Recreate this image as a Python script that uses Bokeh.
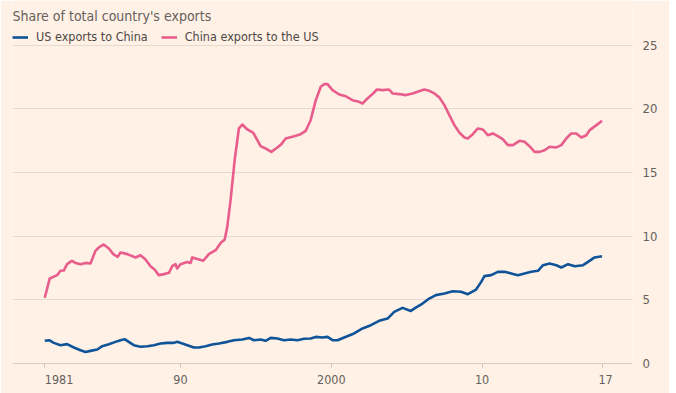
from bokeh.plotting import figure
from bokeh.models import Range1d, FixedTicker, Legend, LegendItem, Label
from bokeh.embed import file_html
from bokeh.resources import INLINE

TITLE = "Share of total country's exports"
SERIES_NAMES = ["US exports to China", "China exports to the US"]

X_TICKS = [1981, 1990, 2000, 2010, 2017.95]
X_TICK_LABELS = ["\u2007\u2007\u2007\u20071981", "90", "2000", "10", "\u200717"]
Y_TICKS = [0, 5, 10, 15, 20, 25]

cn_years = [1981.0, 1981.33, 1981.82, 1982.04, 1982.26, 1982.48, 1982.8, 1983.04, 1983.37, 1983.7,
            1984.03, 1984.36, 1984.58, 1984.9, 1985.25, 1985.54, 1985.84, 1986.02, 1986.47, 1987.02,
            1987.35, 1987.68, 1988.01, 1988.28, 1988.56, 1988.9, 1989.23, 1989.45, 1989.67, 1989.78,
            1990.0, 1990.45, 1990.67, 1990.78, 1991.11, 1991.51, 1991.88, 1992.33, 1992.66, 1992.93,
            1993.1, 1993.32, 1993.59, 1993.87, 1994.1, 1994.43, 1994.83, 1995.31, 1995.64, 1996.02,
            1996.42, 1996.69, 1996.97, 1997.53, 1997.97, 1998.3, 1998.63, 1998.97, 1999.3, 1999.52,
            1999.75, 2000.08, 2000.52, 2000.96, 2001.4, 2001.84, 2002.07, 2002.4, 2002.73, 2003.02,
            2003.4, 2003.83, 2004.06, 2004.5, 2004.95, 2005.39, 2005.72, 2006.16, 2006.5, 2006.83,
            2007.16, 2007.5, 2007.83, 2008.16, 2008.5, 2008.83, 2009.05, 2009.38, 2009.72, 2010.05,
            2010.38, 2010.71, 2011.04, 2011.38, 2011.71, 2012.04, 2012.48, 2012.81, 2013.14, 2013.48,
            2013.81, 2014.14, 2014.47, 2014.92, 2015.25, 2015.58, 2015.91, 2016.24, 2016.58, 2016.91,
            2017.13, 2017.58, 2017.95]
cn_to_us = [5.16, 6.68, 6.94, 7.28, 7.3, 7.8, 8.06, 7.9, 7.8, 7.9,
            7.85, 8.85, 9.11, 9.35, 9.03, 8.59, 8.38, 8.72, 8.59, 8.33,
            8.5, 8.17, 7.64, 7.38, 6.94, 7.02, 7.12, 7.64, 7.8, 7.46,
            7.8, 7.98, 7.9, 8.33, 8.2, 8.07, 8.59, 8.9, 9.47, 9.74,
            10.73, 12.83, 15.97, 18.46, 18.77, 18.38, 18.12, 17.07, 16.89, 16.62,
            16.97, 17.23, 17.67, 17.85, 18.01, 18.27, 19.11, 20.68, 21.73, 21.94,
            21.94, 21.47, 21.13, 20.99, 20.68, 20.55, 20.42, 20.82, 21.16, 21.52,
            21.47, 21.52, 21.21, 21.16, 21.08, 21.21, 21.34, 21.52, 21.42, 21.21,
            20.9, 20.29, 19.5, 18.72, 18.12, 17.75, 17.67, 18.01, 18.46, 18.38,
            17.93, 18.07, 17.85, 17.6, 17.15, 17.15, 17.49, 17.41, 17.07, 16.62,
            16.62, 16.75, 17.02, 16.97, 17.15, 17.67, 18.07, 18.07, 17.75, 17.93,
            18.33, 18.72, 19.06]

us_years = [1981.0, 1981.29, 1981.6, 1982.04, 1982.48, 1982.93, 1983.37, 1983.7, 1984.03, 1984.48,
            1984.81, 1985.25, 1985.69, 1986.02, 1986.29, 1986.57, 1986.9, 1987.35, 1987.8, 1988.23,
            1988.68, 1989.13, 1989.56, 1989.78, 1990.12, 1990.45, 1990.89, 1991.22, 1991.66, 1992.1,
            1992.55, 1993.1, 1993.54, 1994.1, 1994.54, 1994.87, 1995.31, 1995.64, 1995.98, 1996.42,
            1996.86, 1997.3, 1997.75, 1998.19, 1998.63, 1998.97, 1999.41, 1999.75, 2000.08, 2000.41,
            2000.85, 2001.51, 2002.07, 2002.62, 2003.17, 2003.73, 2004.17, 2004.72, 2005.27, 2005.6,
            2006.05, 2006.49, 2006.93, 2007.5, 2008.05, 2008.6, 2009.05, 2009.6, 2009.94, 2010.15,
            2010.6, 2011.04, 2011.49, 2011.93, 2012.37, 2012.81, 2013.26, 2013.7, 2014.04, 2014.47,
            2014.92, 2015.25, 2015.7, 2016.14, 2016.69, 2017.02, 2017.46, 2017.95]
us_to_cn = [1.78, 1.83, 1.62, 1.44, 1.52, 1.26, 1.04, 0.91, 0.99, 1.1,
            1.36, 1.52, 1.7, 1.83, 1.91, 1.7, 1.44, 1.31, 1.36, 1.44,
            1.57, 1.62, 1.62, 1.7, 1.57, 1.44, 1.26, 1.26, 1.36, 1.49,
            1.57, 1.7, 1.83, 1.88, 2.01, 1.83, 1.88, 1.78, 2.01, 1.96,
            1.83, 1.88, 1.83, 1.94, 1.96, 2.09, 2.04, 2.09, 1.83, 1.83,
            2.04, 2.36, 2.75, 3.01, 3.35, 3.53, 4.05, 4.37, 4.13, 4.39,
            4.71, 5.1, 5.37, 5.5, 5.68, 5.63, 5.44, 5.81, 6.41, 6.86,
            6.94, 7.2, 7.2, 7.07, 6.94, 7.07, 7.2, 7.28, 7.72, 7.85,
            7.72, 7.54, 7.8, 7.64, 7.72, 7.98, 8.33, 8.43]

BG = "#FFF1E5"
BLUE = "#0F5499"
PINK = "#E95D8C"
GRID = "#E6D9CE"
TEXT = "#66605C"
FONT = "'Liberation Sans Narrow', 'DejaVu Sans Condensed', Roboto, sans-serif"

p = figure(width=669, height=393, output_backend="svg", toolbar_location=None,
           x_range=Range1d(1978.86, 2019.97), y_range=Range1d(0, 28.51),
           y_axis_location="right",
           min_border_left=12, min_border_right=37, min_border_top=0, min_border_bottom=30)
p.title.visible = False
p.background_fill_color = BG
p.border_fill_color = BG
p.outline_line_color = None

r_us = p.line(us_years, us_to_cn, line_color=BLUE, line_width=2.6, line_join="round")
r_cn = p.line(cn_years, cn_to_us, line_color=PINK, line_width=2.6, line_join="round")

p.xgrid.visible = False
p.ygrid.grid_line_color = GRID
p.ygrid.grid_line_width = 1

p.xaxis.ticker = FixedTicker(ticks=X_TICKS)
p.xaxis.major_label_overrides = {t: l for t, l in zip(X_TICKS, X_TICK_LABELS)}
p.xaxis.axis_line_color = "#D9CCC1"
p.xaxis.major_tick_line_color = "#CFC2B8"
p.xaxis.major_tick_out = 4
p.xaxis.major_tick_in = 0
p.xaxis.minor_tick_line_color = None
p.xaxis.major_label_text_font = FONT
p.xaxis.major_label_text_font_size = "12.5px"
p.xaxis.major_label_text_color = TEXT
p.xaxis.major_label_standoff = 4

p.yaxis.ticker = FixedTicker(ticks=Y_TICKS)
p.yaxis.axis_line_color = None
p.yaxis.major_tick_line_color = None
p.yaxis.minor_tick_line_color = None
p.yaxis.major_label_text_font = FONT
p.yaxis.major_label_text_font_size = "13px"
p.yaxis.major_label_text_color = TEXT
p.yaxis.major_label_standoff = 4

title = Label(x=0, y=347.5, x_units="screen", y_units="screen", text=TITLE,
              text_font=FONT, text_font_size="14px", text_color=TEXT,
              text_baseline="alphabetic", text_align="left")
p.add_layout(title)

legend = Legend(items=[LegendItem(label=SERIES_NAMES[0], renderers=[r_us]),
                       LegendItem(label=SERIES_NAMES[1], renderers=[r_cn])],
                orientation="horizontal", location=(0, 318.7),
                padding=0, margin=0, spacing=13, label_standoff=8,
                glyph_width=16, glyph_height=14, label_height=14,
                label_text_font=FONT, label_text_font_size="12.5px",
                label_text_color="#4D4845",
                border_line_color=None, background_fill_alpha=0)
p.add_layout(legend)

open("out.html", "w").write(file_html(p, INLINE))
